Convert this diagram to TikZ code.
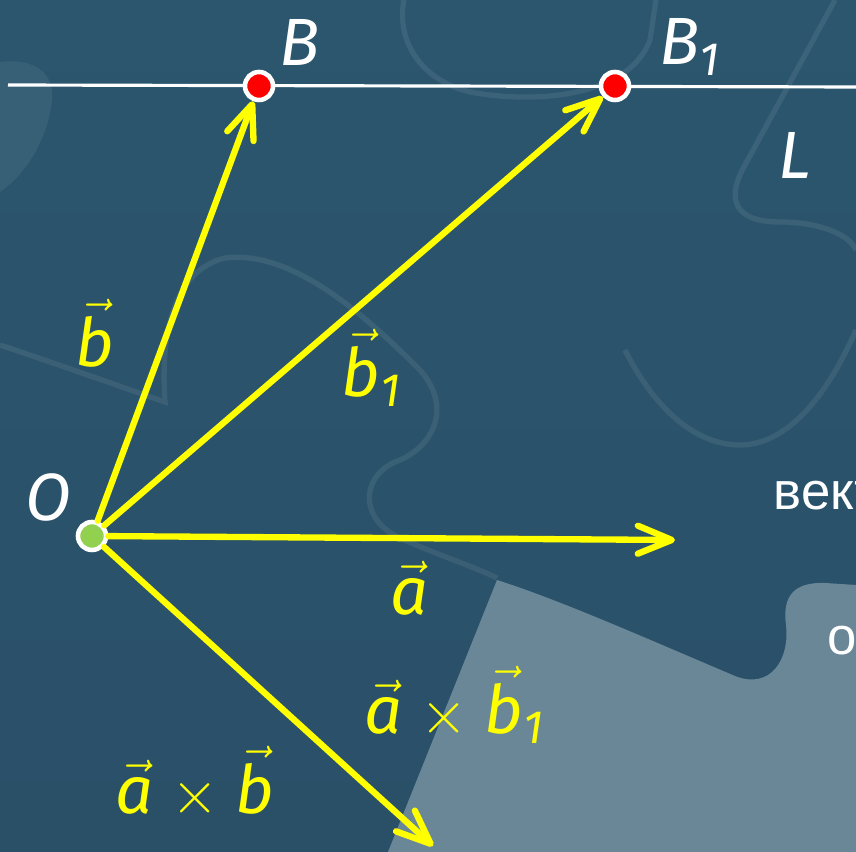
\documentclass[tikz,border=0pt]{standalone}
\usepackage{amsmath,amssymb}
\usepackage{fontspec}
\setmainfont{Fira Sans}
\newfontfamily\cyrfont{Liberation Sans}
\usepackage{tikz}
\usetikzlibrary{arrows.meta,positioning,calc}

\definecolor{bgblue}{HTML}{2B566E}
\definecolor{bgdeep}{HTML}{2A5068}
\definecolor{pieceblue}{HTML}{6A8797}
\definecolor{ptgreen}{HTML}{92D050}
\definecolor{vecyellow}{HTML}{FFFF00}

\newcommand{\vlab}[1]{\ensuremath{\vec{\text{#1}}}}
\newcommand{\sub}[1]{\ensuremath{_{\text{#1}}}}

\begin{document}
\begin{tikzpicture}[
    x=0.01cm, y=-0.01cm,
    vec/.style={line width=1.8pt, vecyellow, line cap=round,
      -{Straight Barb[length=3.4mm, width=2.8mm, line cap=round, line join=round]}},
    pt/.style={circle, draw=white, line width=1.3pt, minimum size=2.8mm, inner sep=0pt},
    lbl/.style={font=\fontsize{19}{22}\selectfont\itshape, text=white, inner sep=1pt},
    vlbl/.style={lbl, text=vecyellow},
    seam/.style={white, opacity=0.08, line width=1.5pt},
    note/.style={font=\cyrfont\fontsize{15}{18}\selectfont, text=white, anchor=base west, inner sep=0pt},
]
\useasboundingbox (0,0) rectangle (856,852);
\clip (0,0) rectangle (856,852);

% background puzzle
\shade[top color=bgblue, bottom color=bgdeep] (0,0) rectangle (856,852);
\fill[white, opacity=0.06] (0,62) .. controls (30,58) and (55,70) .. (52,100)
  .. controls (48,140) and (25,175) .. (0,192) -- cycle;
\fill[pieceblue] (388,852) -- (497,580) .. controls (560,600) and (650,640) .. (735,676)
  .. controls (770,690) and (790,660) .. (786,625)
  .. controls (782,595) and (795,582) .. (825,583) -- (856,585) -- (856,852) -- cycle;
\draw[seam] (0,345) .. controls (60,365) and (130,390) .. (165,402)
  .. controls (160,330) and (175,270) .. (225,258)
  .. controls (290,250) and (360,310) .. (420,370)
  .. controls (455,410) and (430,450) .. (395,462)
  .. controls (360,478) and (360,520) .. (400,538)
  .. controls (440,556) and (470,565) .. (497,578);
\draw[seam] (404,0) .. controls (396,40) and (420,80) .. (470,92)
  .. controls (540,105) and (630,95) .. (650,40) -- (656,0);
\draw[seam] (835,0) -- (745,165) .. controls (725,200) and (735,222) .. (780,222)
  .. controls (820,222) and (850,235) .. (856,250);
\draw[seam] (625,350) .. controls (650,400) and (690,445) .. (740,445)
  .. controls (790,445) and (830,390) .. (856,330);

% line L
\coordinate (Lleft) at (8,85);
\coordinate (Lright) at (856,87);
\draw[white, line width=0.9pt] (Lleft) -- (Lright);

% points
\node[pt, fill=red] (B) at (259,86) {};
\node[pt, fill=red] (B1) at (615,86) {};
\node[pt, fill=ptgreen] (O) at (92,536) {};
\coordinate (A) at (675,540);
\coordinate (AB) at (433,846);

% vectors
\draw[vec] (O) -- (B);
\draw[vec] (O) -- (B1);
\draw[vec] (O) -- (A);
\draw[vec] (O) -- (AB);

% labels
\node[lbl] (Blbl) at (300,42) {B};
\node[lbl] (B1lbl) at (690,47) {B\sub{1}};
\node[lbl] (Llbl) at (795,155) {L};
\node[lbl] (Olbl) at (48,497) {O};
\node[vlbl] (blbl) at (95,333) {\vlab{b}};
\node[vlbl] (b1lbl) at (372,368) {\vlab{b}\sub{1}};
\node[vlbl] (albl) at (410,588) {\vlab{a}};
\node[vlbl] (ab1lbl) at (455,705) {\vlab{a} \ensuremath{\times} \vlab{b}\sub{1}};
\node[vlbl] (ablbl) at (195,782) {\vlab{a} \ensuremath{\times} \vlab{b}};

% text cut by the edge
\node[note] (vekt) at (773,510) {вект};
\node[note] (otxt) at (827,655) {о};
\end{tikzpicture}
\end{document}
